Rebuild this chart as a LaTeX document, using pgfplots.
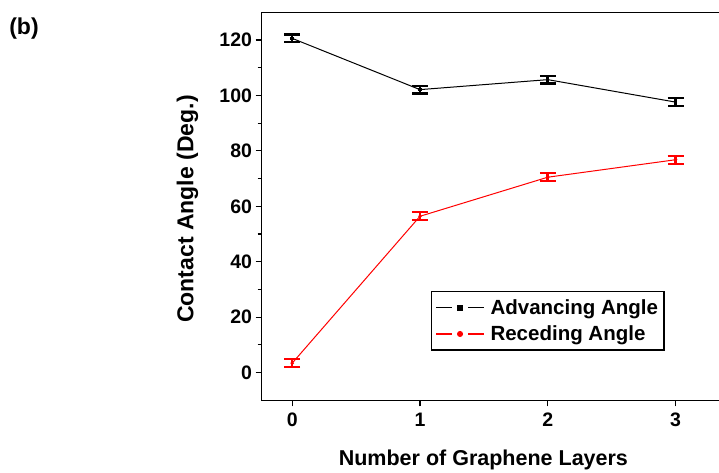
\documentclass[border=0pt]{standalone}
\usepackage{pgfplots}
\pgfplotsset{compat=1.18}
\usepackage{fontspec}
\setmainfont{Liberation Sans}
\begin{document}
\begin{tikzpicture}
\begin{axis}[
  at={(261.5pt,71.7pt)}, anchor=south west,
  scale only axis,
  width=465.2pt, height=388pt,
  xmin=-0.24, xmax=3.4, ymin=-10, ymax=130,
  xtick={0,1,2,3}, ytick={0,20,...,120},
  minor y tick num=1,
  tick align=outside,
  xtick pos=bottom, ytick pos=left,
  major tick length=6pt, minor tick length=4pt,
  tick style={line width=1.2pt, black},
  axis line style={line width=1.5pt},
  ticklabel style={font=\fontsize{19.5}{22}\selectfont\bfseries},
  xticklabel style={yshift=-3pt},
  /pgf/number format/assume math mode=true,
  xlabel={Number of Graphene Layers},
  ylabel={Contact Angle (Deg.)},
  xlabel style={font=\fontsize{21.5}{26}\selectfont\bfseries, at={(axis description cs:0.477,-0.154)}, anchor=center},
  ylabel style={font=\fontsize{23}{26}\selectfont\bfseries, at={(axis description cs:-0.159,0.493)}, anchor=center},
  legend style={at={(axis description cs:0.3637,0.2825)}, anchor=north west,
    draw=black, line width=1.5pt, font=\fontsize{20.5}{24}\selectfont\bfseries,
    inner xsep=4pt, inner ysep=6pt, row sep=6pt},
  legend cell align=left,
  legend image code/.code={
    \draw[#1,mark=none,line width=1.2pt] (0pt,0pt) -- (16pt,0pt);
    \draw[#1,mark=none,line width=1.2pt] (32pt,0pt) -- (48pt,0pt);
    \draw[#1,only marks,mark size=2.5pt] plot coordinates {(24pt,0pt)};
    \path (52pt,0pt);
  },
]
\addplot[black, line width=1pt, mark=square*, mark size=1.2pt,
  error bars/.cd, y dir=both, y explicit,
  error bar style={line width=2.6pt},
  error mark options={rotate=90, line width=2.2pt, mark size=8pt}]
  coordinates {(0,120.6) +- (0,1.4) (1,102.1) +- (0,1.4) (2,105.7) +- (0,1.4) (3,97.6) +- (0,1.4)};
\addlegendentry{Advancing Angle}
\addplot[red, line width=1pt, mark=*, mark size=1.2pt,
  error bars/.cd, y dir=both, y explicit,
  error bar style={line width=2.6pt},
  error mark options={rotate=90, line width=2.2pt, mark size=8pt}]
  coordinates {(0,3.4) +- (0,1.4) (1,56.4) +- (0,1.4) (2,70.5) +- (0,1.4) (3,76.8) +- (0,1.4)};
\addlegendentry{Receding Angle}
\end{axis}
\node[font=\fontsize{23}{26}\selectfont\bfseries] at (24pt,443pt) {(b)};
\pgfresetboundingbox
\useasboundingbox (0,0) rectangle (719pt,472pt);
\end{tikzpicture}
\end{document}
